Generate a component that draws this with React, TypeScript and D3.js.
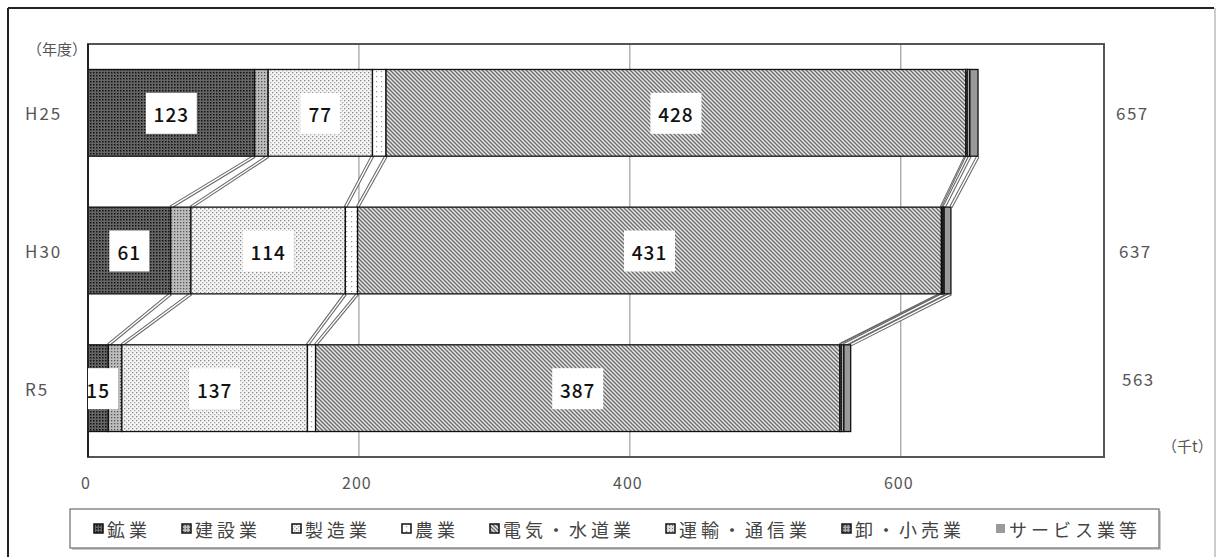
import React from 'react';
import * as d3 from 'd3';

const categories = ['H25', 'H30', 'R5'];
const seriesNames = ['鉱業', '建設業', '製造業', '農業', '電気・水道業', '運輸・通信業', '卸・小売業', 'サービス業等'];
const mining = [123, 61, 15];
const construction = [10, 15, 10];
const manufacturing = [77, 114, 137];
const agriculture = [10, 9, 6];
const utilities = [428, 431, 387];
const transport = [1, 1, 1];
const retail = [2, 1, 2];
const services = [6, 5, 5];
const totals = [657, 637, 563];
const xTicks = [0, 200, 400, 600];
const labeledSeries = ['鉱業', '製造業', '電気・水道業'];

const W = 1217;
const H = 557;
const FONT = '"Noto Sans CJK JP", "Noto Sans", sans-serif';

const seriesValues = [mining, construction, manufacturing, agriculture, utilities, transport, retail, services];
const rows = categories.map((c, i) => {
  const r: any = { cat: c };
  seriesNames.forEach((s, k) => { r[s] = seriesValues[k][i]; });
  return r;
});

const patternIds = ['p-mine', 'p-cons', 'p-manu', 'p-agri', 'p-util', 'p-tran', 'p-retl', 'p-serv'];

function Patterns() {
  return (
    <defs>
      <pattern id="p-mine" width="3" height="3" patternUnits="userSpaceOnUse">
        <rect width="3" height="3" fill="#666" />
        <rect x="0" y="0" width="1.5" height="1.5" fill="#111" />
      </pattern>
      <pattern id="p-cons" width="3" height="3" patternUnits="userSpaceOnUse">
        <rect width="3" height="3" fill="#bdbdbd" />
        <rect x="0" y="0" width="1.3" height="1.3" fill="#555" />
      </pattern>
      <pattern id="p-manu" width="4" height="4" patternUnits="userSpaceOnUse">
        <rect width="4" height="4" fill="#f4f4f4" />
        <rect x="0" y="0" width="1.3" height="1.3" fill="#888" />
        <rect x="2" y="2" width="1.3" height="1.3" fill="#aaa" />
      </pattern>
      <pattern id="p-agri" width="5" height="5" patternUnits="userSpaceOnUse">
        <rect width="5" height="5" fill="#fff" />
        <rect x="1" y="1" width="1.2" height="1.2" fill="#999" />
      </pattern>
      <pattern id="p-util" width="4" height="4" patternUnits="userSpaceOnUse">
        <rect width="4" height="4" fill="#e6e6e6" />
        <path d="M-1,-1 L5,5 M-1,3 L1,5 M3,-1 L5,1" stroke="#6a6a6a" strokeWidth="1.3" />
      </pattern>
      <pattern id="p-tran" width="3" height="3" patternUnits="userSpaceOnUse">
        <rect width="3" height="3" fill="#ddd" />
        <rect width="1" height="1" fill="#777" />
      </pattern>
      <pattern id="p-retl" width="3" height="3" patternUnits="userSpaceOnUse">
        <rect width="3" height="3" fill="#aaa" />
        <rect width="1.5" height="1.5" fill="#444" />
      </pattern>
      <pattern id="p-serv" width="2" height="2" patternUnits="userSpaceOnUse">
        <rect width="2" height="2" fill="#9a9a9a" />
      </pattern>
      <clipPath id="plot-clip">
        <rect x={88} y={40} width={1020} height={420} />
      </clipPath>
    </defs>
  );
}

export default function App() {
  const x = d3.scaleLinear().domain([0, 750]).range([88, 1104]);
  const y = d3.scaleBand<string>().domain(categories).range([44, 457]).paddingInner(0.37).paddingOuter(0.185);
  const bw = y.bandwidth();
  const stacked = d3.stack<any>().keys(seriesNames)(rows);

  // legend layout
  const legendFs = 18;
  const legendLs = 4;
  const legendGap = 31;
  let lx = 94;
  const legendItems = seriesNames.map((name, k) => {
    const item = { name, k, mx: lx, tx: lx + 13 };
    lx = lx + 13 + name.length * (legendFs + legendLs) + legendGap;
    return item;
  });

  return (
    <div style={{ position: 'fixed', left: 0, top: 0 }}>
      <svg width={W} height={H} style={{ display: 'block', background: '#fff' }} fontFamily={FONT}>
        <Patterns />
        {/* outer frame */}
        <line x1={8} y1={8} x2={1214} y2={8} stroke="#222" strokeWidth={2} />
        <line x1={8} y1={8} x2={8} y2={H} stroke="#222" strokeWidth={2} />
        <line x1={1215} y1={8} x2={1215} y2={H} stroke="#bbb" strokeWidth={1.5} />

        {/* grid */}
        {xTicks.filter((t) => t > 0).map((t) => (
          <line key={t} x1={x(t)} x2={x(t)} y1={44} y2={457} stroke="#8a8a8a" strokeWidth={1} />
        ))}

        {/* series lines */}
        {stacked.map((s, k) =>
          categories.slice(0, -1).map((c, i) => {
            const x1 = x(s[i][1]);
            const y1 = (y(c) as number) + bw;
            const x2 = x(s[i + 1][1]);
            const y2 = y(categories[i + 1]) as number;
            return (
              <g key={`${k}-${i}`}>
                <line x1={x1} y1={y1} x2={x2} y2={y2} stroke="#666" strokeWidth={3.5} />
                <line x1={x1} y1={y1} x2={x2} y2={y2} stroke="#fff" strokeWidth={1.4} />
              </g>
            );
          })
        )}

        {/* bars */}
        {stacked.map((s, k) => (
          <g key={s.key} fill={`url(#${patternIds[k]})`}>
            {s.map((d, i) => (
              <rect
                key={i}
                x={x(d[0])}
                y={y(categories[i])}
                width={Math.max(x(d[1]) - x(d[0]), 0)}
                height={bw}
                stroke="#111"
                strokeWidth={1.3}
              />
            ))}
          </g>
        ))}

        {/* plot frame */}
        <rect x={88} y={44} width={1104 - 88} height={457 - 44} fill="none" stroke="#555" strokeWidth={2} />
        <line x1={88} y1={44} x2={88} y2={457} stroke="#111" strokeWidth={1.5} />

        {/* data labels */}
        <g clipPath="url(#plot-clip)">
          {stacked
            .filter((s) => labeledSeries.includes(s.key))
            .map((s) =>
              s.map((d, i) => {
                const v = d[1] - d[0];
                const cx = (x(d[0]) + x(d[1])) / 2;
                const cy = (y(categories[i]) as number) + bw / 2;
                const txt = String(v);
                const bwid = txt.length * 11 + 18;
                return (
                  <g key={`${s.key}-${i}`}>
                    <rect x={cx - bwid / 2} y={cy - 20} width={bwid} height={41} fill="#fff" />
                    <text x={cx} y={cy + 1} textAnchor="middle" dominantBaseline="central" fontSize={19} fill="#111" fontWeight={500} letterSpacing={1}>
                      {txt}
                    </text>
                  </g>
                );
              })
            )}
        </g>

        {/* category labels */}
        <text x={27} y={48} fontSize={15} fill="#555" dominantBaseline="central">（年度）</text>
        {categories.map((c) => (
          <text key={c} x={25} y={(y(c) as number) + bw / 2} fontSize={17} fill="#555" dominantBaseline="central" letterSpacing={2}>
            {c}
          </text>
        ))}

        {/* totals */}
        {categories.map((c, i) => (
          <text key={c} x={1116 + i * 3} y={(y(c) as number) + bw / 2 + (i === 2 ? -10 : 0)} fontSize={17} fill="#555" dominantBaseline="central" letterSpacing={1.5}>
            {totals[i]}
          </text>
        ))}
        <text x={1162} y={445} fontSize={15} fill="#555" dominantBaseline="central">（千t）</text>

        {/* x ticks */}
        {xTicks.map((t) => (
          <text key={t} x={x(t) - 2} y={482} fontSize={16} fill="#555" textAnchor="middle" dominantBaseline="central" letterSpacing={1}>
            {t}
          </text>
        ))}

        {/* legend */}
        <rect x={72} y={511} width={1089} height={39} fill="#ccc" />
        <rect x={70} y={509} width={1089} height={39} fill="#fff" stroke="#777" strokeWidth={1.3} />
        {legendItems.map((it) => (
          <g key={it.name}>
            <rect
              x={it.mx}
              y={524}
              width={9}
              height={9}
              fill={`url(#${patternIds[it.k]})`}
              stroke={it.k === 7 ? 'none' : '#111'}
              strokeWidth={1.5}
            />
            <text x={it.tx} y={529} fontSize={legendFs} letterSpacing={legendLs} fill="#444" dominantBaseline="central">
              {it.name}
            </text>
          </g>
        ))}
      </svg>
    </div>
  );
}
